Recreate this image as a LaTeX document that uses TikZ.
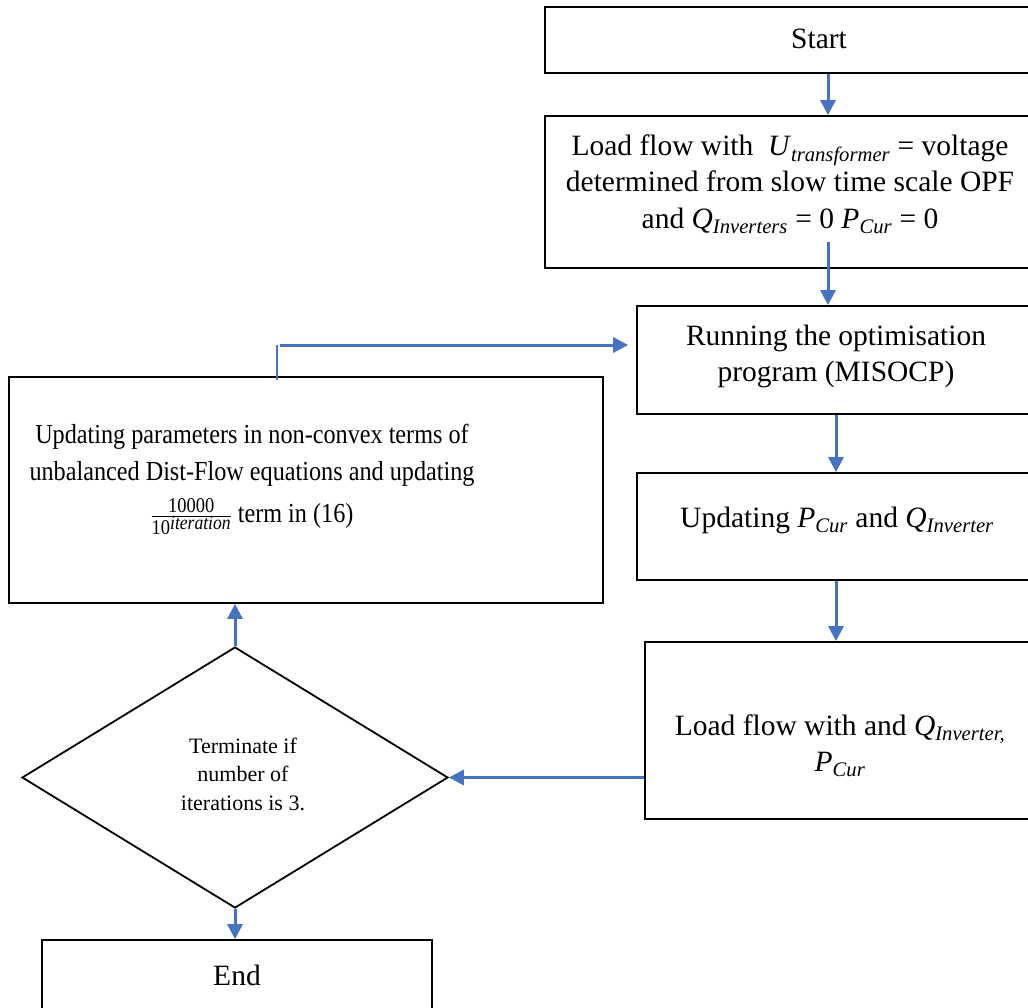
\documentclass[tikz,border=0pt]{standalone}
\usepackage{fontspec}
\setmainfont{Liberation Serif}
\usetikzlibrary{arrows.meta,shapes.geometric}
\definecolor{flowblue}{HTML}{4472C4}
\newcommand\qsub[2]{\textit{#1}\textsubscript{\textit{#2}}}
\begin{document}
\begin{tikzpicture}[x=1pt,y=-1pt,
  boxnode/.style={draw=black, line width=1.8pt, rectangle, inner sep=0pt},
  txt/.style={font=\fontsize{29.5}{36.5}\selectfont, align=center, inner sep=0pt, anchor=north},
  smalltxt/.style={font=\fontsize{22}{28.5}\selectfont, align=center, inner sep=0pt, anchor=north},
  arr/.style={draw=flowblue, line width=3pt, -{Triangle[width=15pt,length=15pt]}}]
\useasboundingbox (0,0) rectangle (1028,1007);
\fill[white] (0,0) rectangle (1028,1007);

% boxes
\node[boxnode, minimum width=548pt, minimum height=66pt] (start) at (819,40) {};
\node[boxnode, minimum width=490pt, minimum height=152pt] (lf1) at (790,192) {};
\node[boxnode, minimum width=398pt, minimum height=108pt] (run) at (836,360) {};
\node[boxnode, minimum width=400pt, minimum height=107pt] (updp) at (837,526.5) {};
\node[boxnode, minimum width=390pt, minimum height=177pt] (lf2) at (840,730.5) {};
\node[boxnode, minimum width=594pt, minimum height=226pt] (upd) at (306,490) {};
\node[draw=black, line width=1.8pt, diamond, inner sep=0pt, minimum width=426pt, minimum height=261pt] (dia) at (235,777.5) {};
\node[boxnode, minimum width=390pt, minimum height=90pt] (endb) at (237,985) {};

% texts
\node[txt] (tstart) at (819,22.5) {\strut Start};
\node[txt] (tlf1) at (790,129.5) {\strut Load flow with\ \ \qsub{U}{transformer} = voltage\\
  determined from slow time scale OPF\\
  and \qsub{Q}{Inverters} = 0 \qsub{P}{Cur} = 0\strut};
\node[txt] (trun) at (836,319.5) {\strut Running the optimisation\\ program (MISOCP)\strut};
\node[txt] (tupdp) at (837,501.5) {\strut Updating \qsub{P}{Cur} and \qsub{Q}{Inverter}};
\node[txt] (tlf2) at (840,709.5) {\strut Load flow with and \qsub{Q}{Inverter,}\\ \qsub{P}{Cur}\strut};
\node[txt, font=\fontsize{27.5}{37}\selectfont, xscale=0.88, transform shape] (tupd) at (252,417.1) {\strut Updating parameters in non-convex terms of\\
  unbalanced Dist-Flow equations and updating\\[5pt]
  $\frac{\hbox{\fontsize{21}{21}\selectfont 10000}}{\hbox{\fontsize{21}{21}\selectfont 10\raisebox{5pt}{\fontsize{20}{20}\selectfont\itshape iteration}}}$ term in (16)\strut};
\node[smalltxt] (tdia) at (243,733) {\strut Terminate if\\ number of\\ iterations is 3.\strut};
\node[txt] (tend) at (237,959.5) {\strut End};

% connector x positions
\coordinate (cA) at (828,0);
\coordinate (cB) at (836,0);
\coordinate (lf1in) at (828,242);
\coordinate (fbturn) at (277,345);

\draw[arr] (start.south -| cA) -- (lf1.north -| cA);
\draw[arr] (lf1in) -- (run.north -| lf1in);
\draw[arr] (run.south -| cB) -- (updp.north -| cB);
\draw[arr] (updp.south -| cB) -- (lf2.north -| cB);
\draw[arr] (lf2.west |- dia.east) -- (dia.east);
\draw[arr] (dia.north) -- (upd.south -| dia.north);
\draw[arr] (dia.south) -- (endb.north -| dia.south);
\draw[flowblue, line width=1.3pt] ([yshift=-4pt]upd.north -| fbturn) -- (fbturn);
\draw[arr, shorten >=8pt] ([xshift=3pt]fbturn) -- (run.west |- fbturn);
\end{tikzpicture}
\end{document}
